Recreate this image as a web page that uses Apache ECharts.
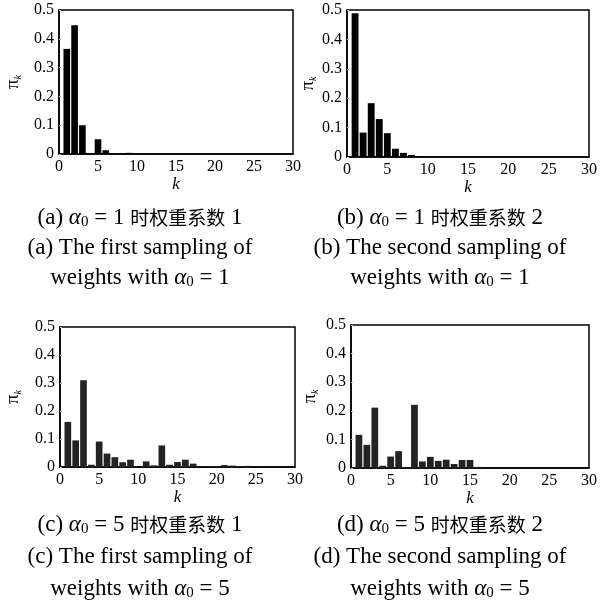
<!DOCTYPE html>
<html>
<head>
<meta charset="utf-8">
<script src="https://cdn.jsdelivr.net/npm/echarts@6/dist/echarts.min.js"></script>
<style>
  html, body { margin: 0; padding: 0; background: #fff; }
  #chart { width: 600px; height: 616px; }
</style>
</head>
<body>
<div id="chart"></div>
<script>
// stick-breaking weight samples, k = 1..30
const kValues = [1,2,3,4,5,6,7,8,9,10,11,12,13,14,15,16,17,18,19,20,21,22,23,24,25,26,27,28,29,30];

const weightsA = [0.365,0.447,0.100,0,0.051,0.013,0,0,0.004,0,0,0,0,0,0,0,0,0,0,0,0,0,0,0,0,0,0,0,0,0];
const weightsB = [0.489,0.083,0.183,0.129,0.081,0.028,0.014,0.007,0.002,0,0,0,0,0,0,0,0,0,0,0,0,0,0,0,0,0,0,0,0,0];
const weightsC = [0.161,0.095,0.310,0.008,0.091,0.048,0.035,0.017,0.026,0,0.020,0.006,0.077,0.008,0.018,0.026,0.012,0.002,0.002,0.003,0.007,0.005,0.003,0.004,0.001,0,0,0,0,0];
const weightsD = [0.116,0.081,0.211,0.008,0.040,0.059,0.002,0.221,0.023,0.039,0.025,0.029,0.014,0.028,0.028,0.004,0,0,0,0,0,0,0,0,0,0,0,0,0,0];

const xTicks = { min: 0, max: 30, step: 5 };
const yTicks = { min: 0, max: 0.5, step: 0.1 };

const captionsTop = [
  ["(a) {a|α}{s|0} = 1 {c|时权重系数} 1", "(a) The first sampling of", "weights with {a|α}{s|0} = 1"],
  ["(b) {a|α}{s|0} = 1 {c|时权重系数} 2", "(b) The second sampling of", "weights with {a|α}{s|0} = 1"]
];
const captionsBottom = [
  ["(c) {a|α}{s|0} = 5 {c|时权重系数} 1", "(c) The first sampling of", "weights with {a|α}{s|0} = 5"],
  ["(d) {a|α}{s|0} = 5 {c|时权重系数} 2", "(d) The second sampling of", "weights with {a|α}{s|0} = 5"]
];

const SERIF = "'Liberation Serif', 'Times New Roman', 'Noto Sans CJK SC', serif";

const panels = [
  { grid: { left: 59, top: 10, width: 234, height: 144 }, data: weightsA, color: "#000", yGap: 36 },
  { grid: { left: 347, top: 10, width: 246, height: 147 }, data: weightsB, color: "#000", yGap: 27 },
  { grid: { left: 60, top: 327, width: 235, height: 140 }, data: weightsC, color: "#232323", yGap: 37 },
  { grid: { left: 351, top: 325, width: 242, height: 143 }, data: weightsD, color: "#232323", yGap: 31 }
];

const chart = echarts.init(document.getElementById("chart"));

const grids = [], xAxes = [], yAxes = [], series = [];
panels.forEach((p, i) => {
  grids.push(Object.assign({ show: true, borderColor: "#000", borderWidth: 1.5 }, p.grid));
  xAxes.push({
    type: "value", gridIndex: i,
    min: xTicks.min, max: xTicks.max, interval: xTicks.step,
    name: "k", nameLocation: "middle", nameGap: 22,
    nameTextStyle: { fontFamily: SERIF, fontStyle: "italic", fontSize: 17, color: "#000" },
    axisLine: { show: true, lineStyle: { color: "#000", width: 1.5 } },
    axisTick: { show: false },
    splitLine: { show: false },
    axisLabel: { fontFamily: SERIF, fontSize: 16, color: "#000", margin: 5 }
  });
  yAxes.push({
    type: "value", gridIndex: i,
    min: yTicks.min, max: yTicks.max, interval: yTicks.step,
    name: "{p|π}{s|k}", nameLocation: "middle", nameRotate: 90, nameGap: p.yGap,
    nameTextStyle: {
      color: "#000",
      rich: {
        p: { fontFamily: SERIF, fontSize: 19, color: "#000", lineHeight: 20 },
        s: { fontFamily: SERIF, fontStyle: "italic", fontSize: 10, color: "#000", verticalAlign: "bottom", lineHeight: 12 }
      }
    },
    axisLine: { show: true, lineStyle: { color: "#000", width: 1.5 } },
    axisTick: { show: true, inside: true, length: 2, lineStyle: { color: "#bbb" } },
    splitLine: { show: false },
    axisLabel: { fontFamily: SERIF, fontSize: 16, color: "#000", margin: 5 }
  });
  series.push({
    type: "bar", xAxisIndex: i, yAxisIndex: i,
    data: kValues.map((k, j) => [k, p.data[j]]),
    barWidth: "85%",
    itemStyle: { color: p.color },
    silent: true
  });
});

const captionRich = {
  a: { fontFamily: SERIF, fontStyle: "italic", fontSize: 23, color: "#000", lineHeight: 24 },
  s: { fontFamily: SERIF, fontSize: 15, color: "#000", verticalAlign: "bottom", lineHeight: 16 },
  c: { fontFamily: "'Noto Sans CJK SC', sans-serif", fontSize: 19, color: "#111", lineHeight: 24 }
};
function captionText(text, x, y) {
  return {
    type: "text", x: x, y: y,
    style: {
      text: text, align: "center", verticalAlign: "middle",
      fontFamily: SERIF, fontSize: 23, fill: "#000", rich: captionRich
    }
  };
}
const graphics = [];
const lineYTop = [218, 248, 278];
const lineYBottom = [525, 557, 589];
[140, 440].forEach((cx, col) => {
  captionsTop[col].forEach((t, r) => graphics.push(captionText(t, cx, lineYTop[r])));
  captionsBottom[col].forEach((t, r) => graphics.push(captionText(t, cx, lineYBottom[r])));
});

chart.setOption({
  backgroundColor: "#fff",
  animation: false,
  grid: grids,
  xAxis: xAxes,
  yAxis: yAxes,
  series: series,
  graphic: graphics
});
</script>
</body>
</html>
